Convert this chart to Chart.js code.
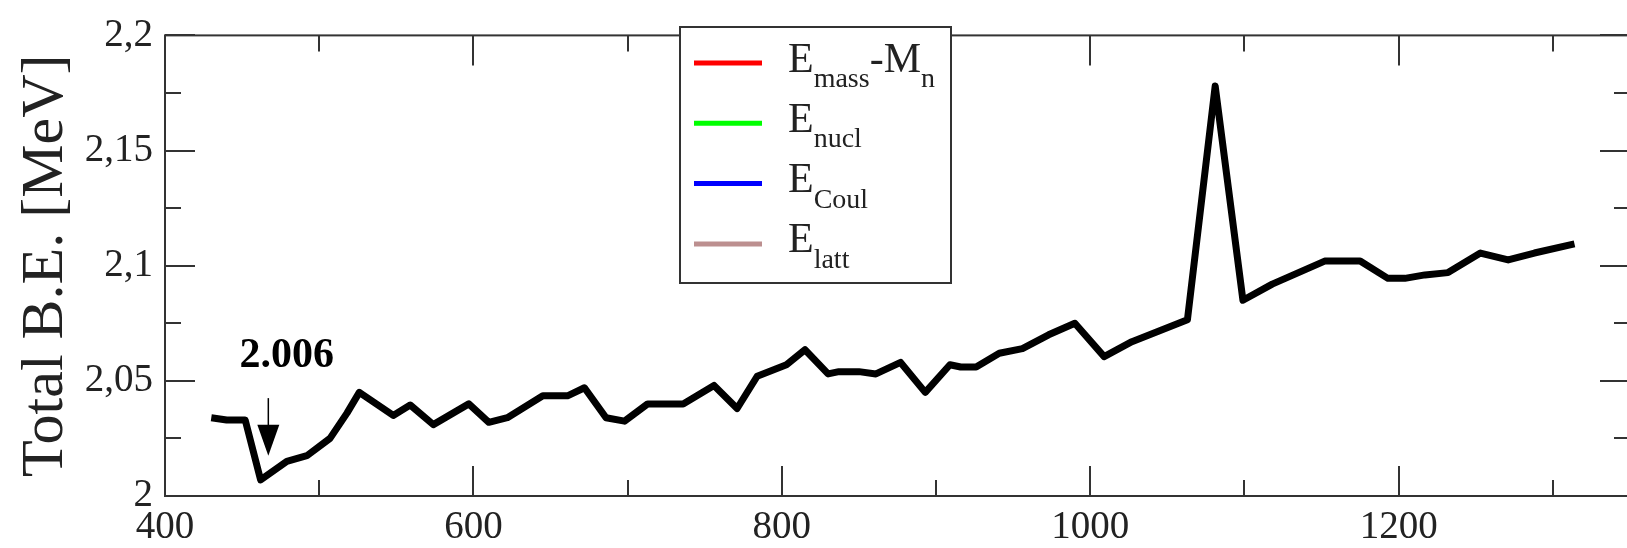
<!DOCTYPE html>
<html>
<head>
<meta charset="utf-8">
<script src="https://cdn.jsdelivr.net/npm/chart.js@4"></script>
<style>
  html, body { margin: 0; padding: 0; background: #fff; overflow: hidden; }
  #chart { display: block; }
</style>
</head>
<body>
<canvas id="chart" width="1634" height="548" style="width:1634px;height:548px"></canvas>
<script>
// mass number A and total binding energy per nucleon (MeV)
var massNumbers = [430, 440, 452, 462, 479, 492, 507, 518, 526, 548,
  559, 574, 597, 610, 622, 645, 661, 672, 686, 698,
  713, 736, 756, 771, 784, 803, 815, 830, 837, 850,
  861, 877, 893, 909, 916, 926, 941, 956, 973, 990,
  1009, 1027, 1063, 1081, 1099, 1118, 1152, 1175, 1193, 1204,
  1217, 1232, 1253, 1271, 1288, 1314];
var totalBE = [2.034, 2.033, 2.033, 2.007, 2.015, 2.0175, 2.025, 2.036, 2.045, 2.035,
  2.0395, 2.031, 2.040, 2.032, 2.034, 2.0435, 2.0435, 2.047, 2.034, 2.0325,
  2.040, 2.040, 2.048, 2.038, 2.052, 2.057, 2.0635, 2.053, 2.054, 2.054,
  2.053, 2.058, 2.045, 2.057, 2.056, 2.056, 2.062, 2.064, 2.070, 2.075,
  2.0605, 2.067, 2.0765, 2.178, 2.085, 2.092, 2.102, 2.102, 2.0945, 2.0945,
  2.096, 2.097, 2.1055, 2.1025, 2.1055, 2.1095];

var xMajorTicks = [400, 600, 800, 1000, 1200];
var xMinorTicks = [500, 700, 900, 1100, 1300];
var yMajorTicks = [2, 2.05, 2.1, 2.15, 2.2];
var yMinorTicks = [2.025, 2.075, 2.125, 2.175];

// legend entries: text pieces alternate normal / subscript
var legendParts = [['E', 'mass', '-M', 'n'], ['E', 'nucl'], ['E', 'Coul'], ['E', 'latt']];
var legendColors = ['#ff0000', '#00ff00', '#0000ff', '#bc8f8f'];

// minimum marker
var minLabel = '2.006';
var minArrowX = 467;
var minArrowTop = 2.0425;
var minArrowTip = 2.0175;
var minLabelX = 479;
var minLabelY = 2.056;

var serif = "'Liberation Serif', 'Times New Roman', serif";
var ink = '#222';

var datasets = [{
  label: 'Total B.E.',
  data: massNumbers.map(function (a, i) { return { x: a, y: totalBE[i] }; }),
  borderColor: '#000',
  borderWidth: 7,
  borderJoinStyle: 'round',
  pointRadius: 0,
  tension: 0,
  fill: false
}];
legendParts.forEach(function (p, i) {
  datasets.push({
    label: p.join(''),
    parts: p,
    data: [],
    borderColor: legendColors[i],
    borderWidth: 5,
    pointRadius: 0,
    isLegendOnly: true
  });
});

var frameTicks = {
  id: 'frameTicks',
  afterDatasetsDraw: function (chart) {
    var c = chart.ctx, a = chart.chartArea;
    var xs = chart.scales.x, ys = chart.scales.y;
    var major = 30, minor = 16;
    c.save();
    c.strokeStyle = '#333';
    c.lineWidth = 2;
    c.strokeRect(a.left, a.top, a.right - a.left, a.bottom - a.top);
    c.beginPath();
    function xt(v, len) {
      var px = Math.round(xs.getPixelForValue(v));
      c.moveTo(px, a.bottom); c.lineTo(px, a.bottom - len);
      c.moveTo(px, a.top); c.lineTo(px, a.top + len);
    }
    function yt(v, len) {
      var py = Math.round(ys.getPixelForValue(v));
      c.moveTo(a.left, py); c.lineTo(a.left + len, py);
      c.moveTo(a.right, py); c.lineTo(a.right - len, py);
    }
    xMajorTicks.forEach(function (v) { xt(v, major); });
    xMinorTicks.forEach(function (v) { xt(v, minor); });
    yMajorTicks.forEach(function (v) { yt(v, major); });
    yMinorTicks.forEach(function (v) { yt(v, minor); });
    c.stroke();
    c.restore();
  }
};

var minMarker = {
  id: 'minMarker',
  afterDatasetsDraw: function (chart) {
    var c = chart.ctx, xs = chart.scales.x, ys = chart.scales.y;
    var ax = xs.getPixelForValue(minArrowX);
    var top = ys.getPixelForValue(minArrowTop);
    var tip = ys.getPixelForValue(minArrowTip);
    c.save();
    c.strokeStyle = '#000';
    c.fillStyle = '#000';
    c.lineWidth = 1.5;
    c.beginPath();
    c.moveTo(ax, top); c.lineTo(ax, tip - 20);
    c.stroke();
    c.beginPath();
    c.moveTo(ax - 11, tip - 31);
    c.lineTo(ax + 11, tip - 31);
    c.lineTo(ax, tip);
    c.closePath();
    c.fill();
    c.font = 'bold 42px ' + serif;
    c.textAlign = 'center';
    c.textBaseline = 'alphabetic';
    c.fillText(minLabel, xs.getPixelForValue(minLabelX), ys.getPixelForValue(minLabelY));
    c.restore();
  }
};

var subLegend = {
  id: 'subLegend',
  afterDraw: function (chart) {
    var o = chart.options.plugins.subLegend;
    var c = chart.ctx;
    c.save();
    c.fillStyle = '#fff';
    c.fillRect(o.left, o.top, o.width, o.height);
    c.strokeStyle = '#333';
    c.lineWidth = 2;
    c.strokeRect(o.left, o.top, o.width, o.height);
    var rows = chart.data.datasets.filter(function (d) { return d.isLegendOnly; });
    rows.forEach(function (d, i) {
      var cy = o.top + o.firstRow + i * o.rowGap;
      c.strokeStyle = d.borderColor;
      c.lineWidth = d.borderWidth;
      c.beginPath();
      c.moveTo(o.left + 14, cy); c.lineTo(o.left + 82, cy);
      c.stroke();
      var x = o.left + 108, base = cy + 8.5;
      c.fillStyle = ink;
      c.textBaseline = 'alphabetic';
      d.parts.forEach(function (t, k) {
        var sub = k % 2 === 1;
        c.font = (sub ? '28px ' : '42px ') + serif;
        c.fillText(t, x, sub ? base + 15.5 : base);
        x += c.measureText(t).width;
      });
    });
    c.restore();
  }
};

new Chart(document.getElementById('chart'), {
  type: 'line',
  data: { datasets: datasets },
  options: {
    responsive: false,
    animation: false,
    devicePixelRatio: 1,
    layout: { padding: { top: 27, right: 4, left: 0, bottom: 0 } },
    plugins: {
      legend: { display: false },
      tooltip: { enabled: false },
      subLegend: { left: 680, top: 27, width: 271, height: 256, firstRow: 36, rowGap: 60.3 }
    },
    scales: {
      x: {
        type: 'linear',
        min: 400,
        max: 1350,
        afterBuildTicks: function (s) { s.ticks = xMajorTicks.map(function (v) { return { value: v }; }); },
        afterFit: function (s) { s.height = 52; },
        grid: { display: false, drawTicks: false },
        border: { display: false },
        ticks: {
          autoSkip: false, maxRotation: 0, padding: 8, color: ink,
          font: { family: serif, size: 39 },
          callback: function (v) { return String(v); }
        }
      },
      y: {
        type: 'linear',
        min: 2,
        max: 2.2,
        afterBuildTicks: function (s) { s.ticks = yMajorTicks.map(function (v) { return { value: v }; }); },
        afterFit: function (s) { s.width = 165; },
        grid: { display: false, drawTicks: false },
        border: { display: false },
        ticks: {
          padding: 12, color: ink,
          font: { family: serif, size: 39 },
          callback: function (v) { return String(v).replace('.', ','); }
        },
        title: {
          display: true,
          text: 'Total B.E. [MeV]',
          color: ink,
          font: { family: serif, size: 60 },
          padding: { top: 10, bottom: 0 }
        }
      }
    }
  },
  plugins: [frameTicks, minMarker, subLegend]
});
</script>
</body>
</html>
